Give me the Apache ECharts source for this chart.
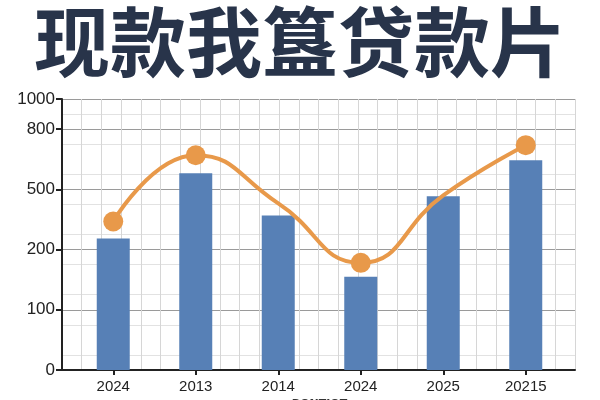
<!DOCTYPE html>
<html>
<head>
<meta charset="utf-8">
<script src="https://cdn.jsdelivr.net/npm/echarts@6/dist/echarts.min.js"></script>
<style>
  html, body { margin: 0; padding: 0; background: #fff; }
  #chart { width: 600px; height: 400px; }
</style>
</head>
<body>
<div id="chart"></div>
<script>
// Chart data
const categories = ["2024", "2013", "2014", "2024", "2025", "20215"];
const barValues = [255, 580, 370, 155, 465, 645];
const lineValues = [340, 670, 430, 178, 470, 720];
const lineMarked = [true, true, false, true, false, true];
// Y tick labels (uneven scale: each label sits one step apart)
const tickLabels = [0, 100, 200, 500, 800, 1000];
const tickSlots = [0, 1, 2, 3, 4, 4.5];

// Map a value onto the uneven axis, piecewise between tick labels
function toSlot(v) {
    for (let i = 1; i < tickLabels.length; i++) {
        if (v <= tickLabels[i]) {
            const t = (v - tickLabels[i - 1]) / (tickLabels[i] - tickLabels[i - 1]);
            return tickSlots[i - 1] + t * (tickSlots[i] - tickSlots[i - 1]);
        }
    }
    return tickSlots[tickSlots.length - 1];
}

const chartDom = document.getElementById('chart');
const myChart = echarts.init(chartDom, null, { renderer: 'canvas' });

const gridTop = 99, gridBottom = 30;

const option = {
    backgroundColor: '#ffffff',
    animation: false,
    title: {
        text: '现款我簋贷款片',
        left: 'center',
        top: -1,
        textStyle: {
            fontFamily: 'Noto Sans CJK SC',
            fontSize: 76,
            fontWeight: 'bold',
            color: '#28344a'
        }
    },
    grid: [
        // background grid with axis lines
        { left: 62, right: 25, top: gridTop, bottom: gridBottom, outerBoundsMode: 'none' },
        // data grid
        { left: 72, right: 33, top: gridTop, bottom: gridBottom, outerBoundsMode: 'none' }
    ],
    xAxis: [
        {
            type: 'value',
            gridIndex: 0,
            min: 0,
            max: 26,
            interval: 1,
            axisLine: { show: true, onZero: false, lineStyle: { color: '#222', width: 2 } },
            axisTick: { show: false },
            axisLabel: { show: false },
            splitLine: { show: true, lineStyle: { color: '#d6d6d6', width: 1 } }
        },
        {
            type: 'category',
            gridIndex: 1,
            data: categories,
            boundaryGap: true,
            axisLine: { show: false },
            axisTick: { show: true, alignWithLabel: true, length: 5, lineStyle: { color: '#222', width: 2 } },
            axisLabel: { color: '#222', fontSize: 15, fontFamily: 'Liberation Sans', margin: 9 },
            splitLine: { show: false },
            name: 'BONTIOT',
            nameLocation: 'middle',
            nameGap: 28,
            nameTextStyle: { color: '#333', fontSize: 11, fontWeight: 'bold', fontFamily: 'DejaVu Sans' }
        }
    ],
    yAxis: [
        {
            type: 'value',
            gridIndex: 0,
            min: 0,
            max: 4.5,
            interval: 0.5,
            axisLine: { show: true, lineStyle: { color: '#222', width: 2 } },
            axisTick: {
                show: true, length: 6, customValues: tickSlots,
                lineStyle: { color: '#222', width: 2 }
            },
            axisLabel: {
                customValues: tickSlots,
                color: '#222',
                fontSize: 17,
                fontFamily: 'Liberation Sans',
                margin: 7,
                formatter: function (val) {
                    const i = tickSlots.indexOf(val);
                    return i >= 0 ? String(tickLabels[i]) : '';
                }
            },
            splitLine: { show: true, lineStyle: { color: '#c4c4c4', width: 1 } },
            minorTick: { show: false, splitNumber: 2 },
            minorSplitLine: { show: true, lineStyle: { color: '#e2e2e2', width: 1 } }
        },
        {
            type: 'value',
            gridIndex: 0,
            min: 0,
            max: 4.5,
            interval: 1,
            axisLine: { show: false },
            axisTick: { show: false },
            axisLabel: { show: false },
            splitLine: { show: true, lineStyle: { color: '#9a9a9a', width: 1 } }
        },
        {
            type: 'value',
            gridIndex: 1,
            min: 0,
            max: 4.5,
            axisLine: { show: false },
            axisTick: { show: false },
            axisLabel: { show: false },
            splitLine: { show: false }
        }
    ],
    series: [
        {
            type: 'bar',
            xAxisIndex: 1,
            yAxisIndex: 2,
            barWidth: 33,
            itemStyle: { color: '#5780b6' },
            data: barValues.map(toSlot)
        },
        {
            type: 'line',
            xAxisIndex: 1,
            yAxisIndex: 2,
            smooth: 0.5,
            symbol: 'circle',
            lineStyle: { color: '#e8994a', width: 4 },
            itemStyle: { color: '#e8994a' },
            data: lineValues.map((v, i) => ({
                value: toSlot(v),
                symbolSize: lineMarked[i] ? 20 : 0
            }))
        }
    ]
};

myChart.setOption(option);
</script>
</body>
</html>
